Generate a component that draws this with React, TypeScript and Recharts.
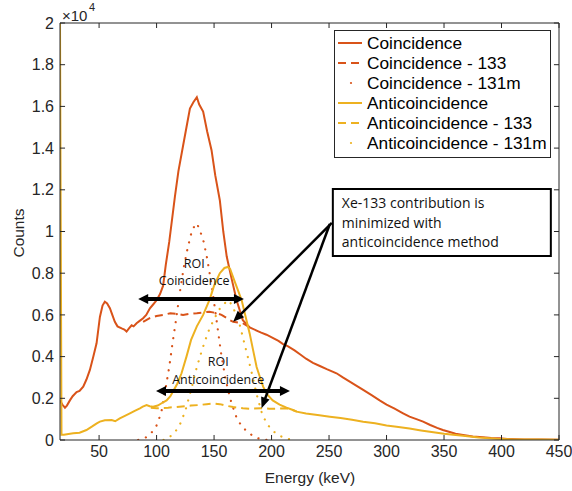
import React from 'react';
import { LineChart, Line, XAxis, YAxis, ReferenceLine, ReferenceArea, ReferenceDot } from 'recharts';

// ---------- data (counts in units of 1e4) ----------
const coincEnergy = [
  16, 18, 20.3, 22, 24.6, 27, 30.4, 33, 36.2, 39,
  42, 45, 47.8, 50.7, 53, 55, 57, 59.4, 61.5, 63.7,
  66, 69.6, 72, 73.9, 76, 78.3, 80, 82.6, 85, 88.3,
  91, 94.2, 97, 100, 103, 105.7, 108, 111, 116, 119,
  123, 126, 129, 132, 135, 137, 139, 140.5, 144, 147.8,
  151, 155, 158, 161, 165, 169.6, 175, 181, 187, 191,
  195.6, 201, 206, 210, 214, 220, 225, 230, 236, 242,
  248, 256.5, 262, 268, 274, 279.7, 287, 294, 300, 307,
  314.4, 320, 326, 331.8, 338, 344, 349, 355, 360, 366.6,
  375, 384, 391, 398.5, 405, 420, 435, 450,
];
const coincCounts = [
  0.19, 0.17, 0.155, 0.165, 0.19, 0.21, 0.23, 0.235, 0.256, 0.29,
  0.336, 0.4, 0.464, 0.59, 0.645, 0.663, 0.655, 0.632, 0.6, 0.567,
  0.545, 0.535, 0.53, 0.52, 0.535, 0.55, 0.545, 0.56, 0.57, 0.584,
  0.6, 0.632, 0.65, 0.67, 0.7, 0.74, 0.84, 0.95, 1.17, 1.29,
  1.41, 1.5, 1.59, 1.62, 1.644, 1.61, 1.59, 1.575, 1.48, 1.39,
  1.27, 1.15, 1.0, 0.88, 0.78, 0.67, 0.575, 0.54, 0.525, 0.515,
  0.505, 0.49, 0.475, 0.46, 0.45, 0.43, 0.41, 0.39, 0.37, 0.355,
  0.34, 0.32, 0.3, 0.28, 0.26, 0.24, 0.215, 0.19, 0.17, 0.15,
  0.128, 0.112, 0.1, 0.088, 0.072, 0.058, 0.048, 0.038, 0.03, 0.024,
  0.017, 0.013, 0.01, 0.008, 0.005, 0.003, 0.002, 0.001,
];

const coinc133Energy = [
  88.3, 94, 100, 106, 112, 118, 123, 129, 135, 141,
  146, 151, 156.5, 161, 163.7, 166.6, 175, 181,
];
const coinc133Counts = [
  0.567, 0.584, 0.595, 0.6, 0.608, 0.605, 0.6, 0.605, 0.608, 0.612,
  0.615, 0.61, 0.6, 0.585, 0.575, 0.567, 0.56, 0.54,
];

const coinc131mEnergy = [
  84, 90, 95, 100, 104, 107, 111, 114, 117, 120,
  124, 127, 131, 135, 138, 141, 144, 148, 152, 156,
  160, 165, 170, 175, 180, 185, 190, 196,
];
const coinc131mCounts = [
  0, 0.01, 0.03, 0.07, 0.13, 0.22, 0.35, 0.47, 0.58, 0.7,
  0.84, 0.92, 1.01, 1.04, 1.0, 0.95, 0.87, 0.74, 0.58, 0.42,
  0.29, 0.18, 0.1, 0.06, 0.035, 0.015, 0.005, 0,
];

const antiEnergy = [
  16, 17.3, 19.4, 22, 27.5, 33, 39, 44, 48, 50.7,
  55, 60.9, 64, 68, 72, 76.8, 81, 85.5, 88, 91.3,
  94, 97, 101, 104, 108.7, 112, 115, 118, 121.7, 126,
  130, 135, 140.5, 146.3, 150, 155, 159, 162, 164, 166.6,
  170, 174, 177.5, 181, 184, 187, 190, 192.7, 196, 201,
  207, 213, 218, 221.7, 230, 240, 250.7, 260, 270, 279.7,
  290, 300, 308.7, 320, 330, 337.7, 350, 358, 366.6, 380,
  395.7, 410, 430, 450,
];
const antiCounts = [
  2.0, 0.025, 0.025, 0.028, 0.032, 0.035, 0.048, 0.065, 0.08, 0.088,
  0.095, 0.096, 0.09, 0.104, 0.115, 0.128, 0.14, 0.152, 0.16, 0.168,
  0.162, 0.16, 0.165, 0.175, 0.19, 0.21, 0.24, 0.27, 0.32, 0.4,
  0.48, 0.545, 0.6, 0.676, 0.74, 0.8, 0.825, 0.83, 0.82, 0.78,
  0.73, 0.67, 0.59, 0.51, 0.43, 0.35, 0.3, 0.256, 0.22, 0.19,
  0.17, 0.155, 0.145, 0.136, 0.127, 0.12, 0.112, 0.105, 0.097, 0.088,
  0.08, 0.07, 0.064, 0.055, 0.046, 0.04, 0.03, 0.025, 0.02, 0.012,
  0.006, 0.003, 0.002, 0.001,
];

const anti133Energy = [
  95, 100, 110, 120, 130, 137.6, 143.5, 150, 155, 160,
  166.6, 175, 181, 191, 198, 205, 213, 218, 222,
];
const anti133Counts = [
  0.155, 0.152, 0.155, 0.16, 0.165, 0.168, 0.172, 0.175, 0.172, 0.165,
  0.158, 0.152, 0.15, 0.152, 0.15, 0.15, 0.152, 0.145, 0.136,
];

const anti131mEnergy = [
  106, 110, 115, 120, 125, 130, 135, 140, 145, 150,
  155, 160, 163, 167, 172, 177, 182, 187, 192, 197,
  202, 207, 213, 219,
];
const anti131mCounts = [
  0, 0.01, 0.03, 0.07, 0.14, 0.24, 0.35, 0.44, 0.52, 0.58,
  0.63, 0.66, 0.67, 0.63, 0.56, 0.45, 0.34, 0.22, 0.12, 0.07,
  0.04, 0.02, 0.007, 0,
];

const xTicks = [50, 100, 150, 200, 250, 300, 350, 400, 450];
const yTicks = [0, 0.2, 0.4, 0.6, 0.8, 1, 1.2, 1.4, 1.6, 1.8, 2];
const xDomain = [16, 450];
const yDomain = [0, 2];

const legendLabels = [
  'Coincidence',
  'Coincidence - 133',
  'Coincidence - 131m',
  'Anticoincidence',
  'Anticoincidence - 133',
  'Anticoincidence - 131m',
];
const noteLines = ['Xe-133 contribution is', 'minimized with', 'anticoincidence method'];

// ---------- styles ----------
const AXIS = '#262626';
const RED = '#D95319';
const YEL = '#EDB120';
const FONT = '"Liberation Sans", Arial, Helvetica, sans-serif';
const NOTE_FONT = '"Open Sans", "Liberation Sans", sans-serif';
const DASH = '8 5';
const DOT = '0.1 8';
// inward tick length expressed in data units (≈5 px)
const X_TICK_LEN = 0.024;
const Y_TICK_LEN = 4.4;

const toPts = (xs: number[], ys: number[]) => xs.map((x, i) => ({ x, y: ys[i] }));

const series = [
  { key: 'c', data: toPts(coincEnergy, coincCounts), color: RED, dash: undefined as string | undefined, w: 2 },
  { key: 'c133', data: toPts(coinc133Energy, coinc133Counts), color: RED, dash: DASH, w: 2 },
  { key: 'c131', data: toPts(coinc131mEnergy, coinc131mCounts), color: RED, dash: DOT, w: 2.2 },
  { key: 'a', data: toPts(antiEnergy, antiCounts), color: YEL, dash: undefined, w: 2 },
  { key: 'a133', data: toPts(anti133Energy, anti133Counts), color: YEL, dash: DASH, w: 2 },
  { key: 'a131', data: toPts(anti131mEnergy, anti131mCounts), color: YEL, dash: DOT, w: 2.2 },
];

function Arrow(props: any) {
  const { x1, y1, x2, y2, both, lw, hl, hw } = props;
  const ang = Math.atan2(y2 - y1, x2 - x1);
  const c = Math.cos(ang), s = Math.sin(ang);
  const head = (px: number, py: number, dir: number) => {
    const bx = px - dir * c * hl, by = py - dir * s * hl;
    return `${px},${py} ${bx - s * hw / 2},${by + c * hw / 2} ${bx + s * hw / 2},${by - c * hw / 2}`;
  };
  const sx = both ? x1 + c * hl * 0.8 : x1;
  const sy = both ? y1 + s * hl * 0.8 : y1;
  const ex = x2 - c * hl * 0.8, ey = y2 - s * hl * 0.8;
  return (
    <g>
      <line x1={sx} y1={sy} x2={ex} y2={ey} stroke="#000" strokeWidth={lw} />
      <polygon points={head(x2, y2, 1)} fill="#000" />
      {both && <polygon points={head(x1, y1, -1)} fill="#000" />}
    </g>
  );
}

const NoteLabel = (p: any) => {
  const vb = p.viewBox || {};
  return (
    <text x={vb.x + 9} y={vb.y} fontFamily={NOTE_FONT} fontSize={14} fill="#111">
      {noteLines.map((t, i) => (
        <tspan key={i} x={vb.x + 9} y={vb.y + 14 + i * 19.5} dominantBaseline="central">{t}</tspan>
      ))}
    </text>
  );
};

const roiLabel = (value: string) => ({
  value,
  position: 'center' as const,
  fill: '#111',
  fontSize: 12.5,
  fontFamily: NOTE_FONT,
});

const frameSegs: { x: number; y: number }[][] = [
  [{ x: xDomain[0], y: yDomain[1] }, { x: xDomain[1], y: yDomain[1] }],
  [{ x: xDomain[1], y: yDomain[0] }, { x: xDomain[1], y: yDomain[1] }],
  [{ x: xDomain[0], y: yDomain[0] }, { x: xDomain[1], y: yDomain[0] }],
  [{ x: xDomain[0], y: yDomain[0] }, { x: xDomain[0], y: yDomain[1] }],
  ...xTicks.flatMap((t) => [
    [{ x: t, y: yDomain[0] }, { x: t, y: yDomain[0] + X_TICK_LEN }],
    [{ x: t, y: yDomain[1] }, { x: t, y: yDomain[1] - X_TICK_LEN }],
  ]),
  ...yTicks.flatMap((t) => [
    [{ x: xDomain[0], y: t }, { x: xDomain[0] + Y_TICK_LEN, y: t }],
    [{ x: xDomain[1], y: t }, { x: xDomain[1] - Y_TICK_LEN, y: t }],
  ]),
];

export default function App() {
  return (
    <div style={{ position: 'absolute', left: 0, top: 0, width: 572, height: 491, background: '#fff' }}>
      <LineChart width={572} height={491} margin={{ top: 23, right: 13, bottom: 0, left: 0 }}>
        <XAxis
          xAxisId="b"
          type="number"
          dataKey="x"
          domain={xDomain}
          ticks={xTicks}
          allowDataOverflow
          height={51}
          stroke={AXIS}
          axisLine={false}
          tickLine={false}
          tickSize={0}
          tickMargin={6}
          tick={{ fill: AXIS, fontSize: 16, fontFamily: FONT }}
        />
        <YAxis
          yAxisId="l"
          type="number"
          domain={yDomain}
          ticks={yTicks}
          allowDataOverflow
          width={60}
          stroke={AXIS}
          axisLine={false}
          tickLine={false}
          tickSize={0}
          tickMargin={6}
          tick={{ fill: AXIS, fontSize: 16, fontFamily: FONT }}
        />
        {series.map((s) => (
          <Line
            key={s.key}
            xAxisId="b"
            yAxisId="l"
            data={s.data}
            dataKey="y"
            type="linear"
            stroke={s.color}
            strokeWidth={s.w}
            strokeDasharray={s.dash}
            strokeLinecap={s.dash === DOT ? 'round' : 'butt'}
            dot={false}
            activeDot={false}
            isAnimationActive={false}
          />
        ))}
        {frameSegs.map((seg, i) => (
          <ReferenceLine
            key={`f${i}`}
            xAxisId="b"
            yAxisId="l"
            ifOverflow="visible"
            segment={seg}
            stroke={AXIS}
            strokeWidth={1}
          />
        ))}
        <ReferenceArea
          xAxisId="b"
          yAxisId="l"
          x1={253.3}
          x2={442.9}
          y1={0.882}
          y2={1.204}
          fill="#fff"
          fillOpacity={1}
          stroke="#000"
          strokeWidth={2}
          ifOverflow="visible"
          label={<NoteLabel />}
        />
        <ReferenceLine
          xAxisId="b"
          yAxisId="l"
          ifOverflow="visible"
          segment={[{ x: 84, y: 0.676 }, { x: 176, y: 0.676 }]}
          shape={(p: any) => <Arrow {...p} both lw={4} hl={10} hw={10} />}
        />
        <ReferenceLine
          xAxisId="b"
          yAxisId="l"
          ifOverflow="visible"
          segment={[{ x: 99.5, y: 0.235 }, { x: 216, y: 0.235 }]}
          shape={(p: any) => <Arrow {...p} both lw={4} hl={10} hw={10} />}
        />
        <ReferenceLine
          xAxisId="b"
          yAxisId="l"
          ifOverflow="visible"
          segment={[{ x: 252.4, y: 1.041 }, { x: 166.6, y: 0.567 }]}
          shape={(p: any) => <Arrow {...p} lw={2.5} hl={11} hw={9} />}
        />
        <ReferenceLine
          xAxisId="b"
          yAxisId="l"
          ifOverflow="visible"
          segment={[{ x: 250.7, y: 1.036 }, { x: 191.3, y: 0.152 }]}
          shape={(p: any) => <Arrow {...p} lw={2.5} hl={11} hw={9} />}
        />
        <ReferenceDot xAxisId="b" yAxisId="l" x={132.7} y={0.847} r={0.01} fill="none" stroke="none" label={roiLabel('ROI')} />
        <ReferenceDot xAxisId="b" yAxisId="l" x={132.7} y={0.764} r={0.01} fill="none" stroke="none" label={roiLabel('Coincidence')} />
        <ReferenceDot xAxisId="b" yAxisId="l" x={153.6} y={0.376} r={0.01} fill="none" stroke="none" label={roiLabel('ROI')} />
        <ReferenceDot xAxisId="b" yAxisId="l" x={153.6} y={0.288} r={0.01} fill="none" stroke="none" label={roiLabel('Anticoincidence')} />
      </LineChart>
      <svg
        width={572}
        height={491}
        style={{ position: 'absolute', left: 0, top: 0, pointerEvents: 'none' }}
      >
        <text x={62} y={15} fontFamily={FONT} fontSize={15} fill={AXIS} dominantBaseline="central">
          ×10
        </text>
        <text x={89} y={7} fontFamily={FONT} fontSize={11} fill={AXIS} dominantBaseline="central">
          4
        </text>
        <text
          x={18}
          y={233}
          transform="rotate(-90 18 233)"
          textAnchor="middle"
          dominantBaseline="central"
          fontFamily={FONT}
          fontSize={15.5}
          fill={AXIS}
        >
          Counts
        </text>
        <text x={310} y={477} textAnchor="middle" dominantBaseline="central" fontFamily={FONT} fontSize={15.5} fill={AXIS}>
          Energy (keV)
        </text>
        <rect x={334.5} y={30.5} width={216} height={127} fill="#fff" stroke={AXIS} strokeWidth={1} />
        {legendLabels.map((lab, i) => {
          const s = series[i];
          const cy = 43 + i * 20;
          return (
            <g key={lab}>
              {s.dash === DOT ? (
                <circle cx={351} cy={cy} r={1.1} fill={s.color} />
              ) : (
                <line x1={338} y1={cy} x2={362} y2={cy} stroke={s.color} strokeWidth={2} strokeDasharray={s.dash} />
              )}
              <text x={367} y={cy} dominantBaseline="central" fontFamily={FONT} fontSize={17.3} fill="#000">
                {lab}
              </text>
            </g>
          );
        })}
      </svg>
    </div>
  );
}
